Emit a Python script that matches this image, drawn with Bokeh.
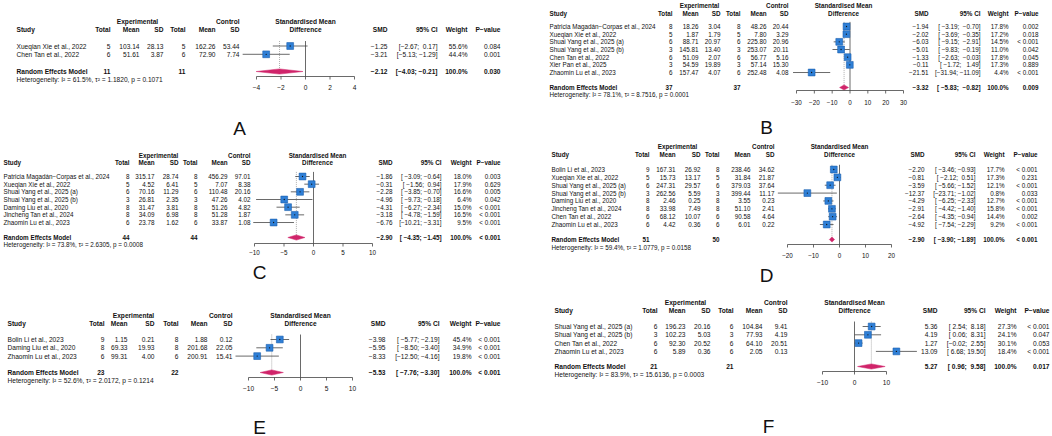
from bokeh.plotting import figure
from bokeh.models import Range1d, ColumnDataSource
from bokeh.embed import file_html
from bokeh.resources import INLINE
from bokeh.core.properties import value

# ---------------- DATA ----------------
# Panel A
study_A = ["Xueqian Xie et al., 2022", "Chen Tan et al., 2022"]
en_A = [5, 6]; em_A = [103.14, 51.61]; esd_A = [28.13, 3.87]
cn_A = [5, 6]; cm_A = [162.26, 72.90]; csd_A = [53.44, 7.74]
smd_A = [-1.25, -3.21]; lo_A = [-2.67, -5.13]; hi_A = [0.17, -1.29]
w_A = [55.6, 44.4]; p_A = ["0.084", "0.001"]
re_A = [-2.12, -4.03, -0.21]; rep_A = "0.030"; tot_A = [11, 11]
het_A = "Heterogeneity: I\u00b2 = 61.5%, \u03c4\u00b2 = 1.1820, p = 0.1071"
ticks_A = [-4, -2, 0, 2, 4]

# Panel B
study_B = ["Patricia Magad\u00e1n\u2212Corpas et al., 2024", "Xueqian Xie et al., 2022",
           "Shuai Yang et al., 2025 (a)", "Shuai Yang et al., 2025 (b)", "Chen Tan et al., 2022",
           "Xier Pan et al., 2025", "Zhaomin Lu et al., 2023"]
en_B = [8, 5, 6, 3, 6, 3, 6]; em_B = [18.26, 1.87, 88.71, 145.81, 51.09, 54.59, 157.47]
esd_B = [3.04, 1.79, 20.97, 13.40, 2.07, 19.89, 4.07]
cn_B = [8, 5, 6, 3, 6, 3, 6]; cm_B = [48.26, 7.80, 225.80, 253.07, 56.77, 57.14, 252.48]
csd_B = [20.44, 3.29, 20.96, 20.11, 5.16, 15.30, 4.08]
smd_B = [-1.94, -2.02, -6.03, -5.01, -1.33, -0.11, -21.51]
lo_B = [-3.19, -3.69, -9.15, -9.83, -2.63, -1.72, -31.94]
hi_B = [-0.70, -0.35, -2.91, -0.19, -0.03, 1.49, -11.09]
w_B = [17.8, 17.2, 14.5, 11.0, 17.8, 17.3, 4.4]
p_B = ["0.002", "0.018", "< 0.001", "0.042", "0.045", "0.889", "< 0.001"]
re_B = [-3.32, -5.83, -0.82]; rep_B = "0.009"; tot_B = [37, 37]
het_B = "Heterogeneity: I\u00b2 = 78.1%, \u03c4\u00b2 = 8.7516, p = 0.0001"
ticks_B = [-30, -20, -10, 0, 10, 20, 30]

# Panel C
study_C = ["Patricia Magad\u00e1n\u2212Corpas et al., 2024", "Xueqian Xie et al., 2022",
           "Shuai Yang et al., 2025 (a)", "Shuai Yang et al., 2025 (b)", "Daming Liu et al., 2020",
           "Jincheng Tan et al., 2024", "Zhaomin Lu et al., 2023"]
en_C = [8, 5, 6, 3, 8, 8, 6]; em_C = [315.17, 4.52, 70.16, 26.81, 31.47, 34.09, 23.78]
esd_C = [28.74, 6.41, 11.29, 2.35, 3.81, 6.98, 1.62]
cn_C = [8, 5, 6, 3, 8, 8, 6]; cm_C = [456.29, 7.07, 110.48, 47.26, 51.26, 51.28, 33.87]
csd_C = [97.01, 8.38, 20.16, 4.02, 4.82, 1.87, 1.08]
smd_C = [-1.86, -0.31, -2.28, -4.96, -4.31, -3.18, -6.76]
lo_C = [-3.09, -1.56, -3.85, -9.73, -6.27, -4.78, -10.21]
hi_C = [-0.64, 0.94, -0.70, -0.18, -2.34, -1.59, -3.31]
w_C = [18.0, 17.9, 16.6, 6.4, 15.0, 16.5, 9.5]
p_C = ["0.003", "0.629", "0.005", "0.042", "< 0.001", "< 0.001", "< 0.001"]
re_C = [-2.90, -4.35, -1.45]; rep_C = "< 0.001"; tot_C = [44, 44]
het_C = "Heterogeneity: I\u00b2 = 73.8%, \u03c4\u00b2 = 2.6305, p = 0.0008"
ticks_C = [-10, -5, 0, 5, 10]

# Panel D
study_D = ["Bolin Li et al., 2023", "Xueqian Xie et al., 2022", "Shuai Yang et al., 2025 (a)",
           "Shuai Yang et al., 2025 (b)", "Daming Liu et al., 2020", "Jincheng Tan et al., 2024",
           "Chen Tan et al., 2022", "Zhaomin Lu et al., 2023"]
en_D = [9, 5, 6, 3, 8, 8, 6, 6]; em_D = [167.31, 15.73, 247.31, 262.56, 2.46, 33.98, 68.12, 4.42]
esd_D = [26.92, 13.17, 29.57, 5.59, 0.25, 7.49, 10.07, 0.36]
cn_D = [8, 5, 6, 3, 8, 8, 6, 6]; cm_D = [238.46, 31.84, 379.03, 399.44, 3.55, 51.10, 90.58, 6.01]
csd_D = [34.62, 21.87, 37.64, 11.17, 0.23, 2.41, 4.64, 0.22]
smd_D = [-2.20, -0.81, -3.59, -12.37, -4.29, -2.91, -2.64, -4.92]
lo_D = [-3.46, -2.12, -5.66, -23.71, -6.25, -4.42, -4.35, -7.54]
hi_D = [-0.93, 0.51, -1.52, -1.02, -2.33, -1.40, -0.94, -2.29]
w_D = [17.7, 17.3, 12.1, 0.8, 12.7, 15.8, 14.4, 9.2]
p_D = ["< 0.001", "0.231", "< 0.001", "0.033", "< 0.001", "< 0.001", "0.002", "< 0.001"]
re_D = [-2.90, -3.90, -1.89]; rep_D = "< 0.001"; tot_D = [51, 50]
het_D = "Heterogeneity: I\u00b2 = 59.4%, \u03c4\u00b2 = 1.0779, p = 0.0158"
ticks_D = [-20, -10, 0, 10, 20]

# Panel E
study_E = ["Bolin Li et al., 2023", "Daming Liu et al., 2020", "Zhaomin Lu et al., 2023"]
en_E = [9, 8, 6]; em_E = [1.15, 69.33, 99.31]; esd_E = [0.21, 19.93, 4.00]
cn_E = [8, 8, 6]; cm_E = [1.88, 201.68, 200.91]; csd_E = [0.12, 22.05, 15.41]
smd_E = [-3.98, -5.95, -8.33]; lo_E = [-5.77, -8.50, -12.50]; hi_E = [-2.19, -3.40, -4.16]
w_E = [45.4, 34.9, 19.8]; p_E = ["< 0.001", "< 0.001", "< 0.001"]
re_E = [-5.53, -7.76, -3.30]; rep_E = "< 0.001"; tot_E = [23, 22]
het_E = "Heterogeneity: I\u00b2 = 52.6%, \u03c4\u00b2 = 2.0172, p = 0.1214"
ticks_E = [-10, -5, 0, 5, 10]

# Panel F
study_F = ["Shuai Yang et al., 2025 (a)", "Shuai Yang et al., 2025 (b)", "Chen Tan et al., 2022",
           "Zhaomin Lu et al., 2023"]
en_F = [6, 3, 6, 6]; em_F = [196.23, 102.23, 92.30, 5.89]; esd_F = [20.16, 5.03, 20.52, 0.36]
cn_F = [6, 3, 6, 6]; cm_F = [104.84, 77.93, 64.10, 2.05]; csd_F = [9.41, 4.19, 20.51, 0.13]
smd_F = [5.36, 4.19, 1.27, 13.09]; lo_F = [2.54, 0.06, -0.02, 6.68]; hi_F = [8.18, 8.31, 2.55, 19.50]
w_F = [27.3, 24.1, 30.1, 18.4]; p_F = ["< 0.001", "0.047", "0.053", "< 0.001"]
re_F = [5.27, 0.96, 9.58]; rep_F = "0.017"; tot_F = [21, 21]
het_F = "Heterogeneity: I\u00b2 = 83.9%, \u03c4\u00b2 = 15.6136, p = 0.0003"
ticks_F = [-10, 0, 10]

DATA = {
    "A": (study_A, en_A, em_A, esd_A, cn_A, cm_A, csd_A, smd_A, lo_A, hi_A, w_A, p_A, re_A, rep_A, tot_A, het_A, ticks_A),
    "B": (study_B, en_B, em_B, esd_B, cn_B, cm_B, csd_B, smd_B, lo_B, hi_B, w_B, p_B, re_B, rep_B, tot_B, het_B, ticks_B),
    "C": (study_C, en_C, em_C, esd_C, cn_C, cm_C, csd_C, smd_C, lo_C, hi_C, w_C, p_C, re_C, rep_C, tot_C, het_C, ticks_C),
    "D": (study_D, en_D, em_D, esd_D, cn_D, cm_D, csd_D, smd_D, lo_D, hi_D, w_D, p_D, re_D, rep_D, tot_D, het_D, ticks_D),
    "E": (study_E, en_E, em_E, esd_E, cn_E, cm_E, csd_E, smd_E, lo_E, hi_E, w_E, p_E, re_E, rep_E, tot_E, het_E, ticks_E),
    "F": (study_F, en_F, em_F, esd_F, cn_F, cm_F, csd_F, smd_F, lo_F, hi_F, w_F, p_F, re_F, rep_F, tot_F, het_F, ticks_F),
}

# ---------------- LAYOUT (screen pixel positions) ----------------
LAYOUT = {
    "A": dict(fs=6.6, sx=16, cols=[110, 139, 163, 185, 215, 239], expc=137, ctlr=239,
              lim=(-4, 4), px=(256, 354), ttl=305, rcols=[387, 437, 467, 500],
              yexp=21, ystudy=29, row1=45.5, h=8.3, yre=71, yhet=79, yax=76, ytl=87, lab=(239, 128)),
    "B": dict(fs=6.3, sx=549, cols=[672, 698, 720, 740, 766, 788], expc=699, ctlr=788,
              lim=(-30, 30), px=(796, 903), ttl=843, rcols=[928, 980, 1008, 1038],
              yexp=5, ystudy=13, row1=26, h=7.67, yre=87, yhet=94, yax=90, ytl=102, lab=(766, 127)),
    "C": dict(fs=6.3, sx=3, cols=[129, 154, 178, 197, 227, 250], expc=158, ctlr=250,
              lim=(-10, 10), px=(254, 372), ttl=317, rcols=[392, 441, 471, 500],
              yexp=155, ystudy=162, row1=176, h=7.67, yre=237, yhet=244, yax=243, ytl=252, lab=(259, 272)),
    "D": dict(fs=6.3, sx=551, cols=[649, 675, 700, 719, 750, 774], expc=677, ctlr=774,
              lim=(-20, 20), px=(787, 891), ttl=839, rcols=[924, 975, 1004, 1037],
              yexp=146, ystudy=154, row1=169, h=7.86, yre=239, yhet=247, yax=244, ytl=255, lab=(766, 275)),
    "E": dict(fs=6.6, sx=7, cols=[104, 127, 154, 178, 207, 232], expc=133, ctlr=232,
              lim=(-10, 10), px=(248, 352), ttl=300, rcols=[385, 439, 471, 500],
              yexp=315, ystudy=323, row1=339, h=8.3, yre=372, yhet=380, yax=377, ytl=388, lab=(259, 427)),
    "F": dict(fs=6.6, sx=554, cols=[657, 685, 710, 733, 762, 787], expc=685, ctlr=787,
              lim=(-10, 10), px=(822, 886), ttl=854, rcols=[937, 985, 1016, 1049],
              yexp=302, ystudy=310, row1=326, h=8.3, yre=366, yhet=374, yax=371, ytl=382, lab=(768, 426)),
}

FONT = "Liberation Sans"
SQ_FILL = "#2f7fd6"
SQ_LINE = "#1b5fae"
DIA = "#d0246a"
INK = "#111111"
GREY = "#444444"

W, H = 1052, 436
p = figure(width=W, height=H, x_range=Range1d(0, W), y_range=Range1d(H, 0),
           output_backend="svg", toolbar_location=None, x_axis_location=None,
           y_axis_location=None, min_border=0)
p.grid.visible = False
p.outline_line_color = None
p.background_fill_color = "white"


def M(s):
    return s.replace("-", "\u2212")


def f2(v):
    return M(f"{v:.2f}")


def txt(target, xs, ys, texts, fs, align="left", bold=False, color=INK):
    src = ColumnDataSource(dict(x=list(xs), y=list(ys), t=list(texts)))
    target.text(x="x", y="y", text="t", source=src, text_font=value(FONT),
                text_font_size=value(f"{fs}px"), text_align=align, text_baseline="middle",
                text_font_style="bold" if bold else "normal", text_color=color)


def ci_strings(lo, hi):
    ls = [f"{v:.2f}" for v in lo]
    hs = [f"{v:.2f}" for v in hi]
    wl = max(len(s) for s in ls)
    wh = max(len(s) for s in hs)
    out = []
    for a, b in zip(ls, hs):
        s = "[" + a.rjust(wl) + "; " + b.rjust(wh) + "]"
        out.append(M(s).replace(" ", "\u00a0"))
    return out


for key in "ABCDEF":
    (study, en, em, esd, cn, cm, csd, smd, lo, hi, w, pv, re, rep, tot, het, ticks) = DATA[key]
    L = LAYOUT[key]
    fs = L["fs"]
    n = len(study)
    ys = [L["row1"] + i * L["h"] for i in range(n)]
    yre = L["yre"]

    # headers
    txt(p, [L["expc"]], [L["yexp"]], ["Experimental"], fs, "center", True)
    txt(p, [L["ctlr"]], [L["yexp"]], ["Control"], fs, "right", True)
    txt(p, [L["sx"]], [L["ystudy"]], ["Study"], fs, "left", True)
    txt(p, L["cols"], [L["ystudy"]] * 6, ["Total", "Mean", "SD", "Total", "Mean", "SD"], fs, "right", True)
    txt(p, [L["ttl"], L["ttl"]], [L["yexp"], L["ystudy"]], ["Standardised Mean", "Difference"], fs, "center", True)
    txt(p, L["rcols"], [L["ystudy"]] * 4, ["SMD", "95% CI", "Weight", "P\u2212value"], fs, "right", True)

    # study rows
    txt(p, [L["sx"]] * n, ys, study, fs, "left")
    colvals = [[str(v) for v in en], [f2(v) for v in em], [f2(v) for v in esd],
               [str(v) for v in cn], [f2(v) for v in cm], [f2(v) for v in csd]]
    for cx, vals in zip(L["cols"], colvals):
        txt(p, [cx] * n, ys, vals, fs, "right")
    cis = ci_strings(lo + [re[1]], hi + [re[2]])
    rvals = [[f2(v) for v in smd], cis[:n], [f"{v:.1f}%" for v in w], pv]
    for cx, vals in zip(L["rcols"], rvals):
        txt(p, [cx] * n, ys, vals, fs, "right")

    # random effects row
    txt(p, [L["sx"]], [yre], ["Random Effects Model"], fs, "left", True)
    txt(p, [L["cols"][0], L["cols"][3]], [yre, yre], [str(tot[0]), str(tot[1])], fs, "right", True)
    txt(p, L["rcols"], [yre] * 4, [f2(re[0]), cis[n], "100.0%", rep], fs, "right", True)
    txt(p, [L["sx"]], [L["yhet"]], [het], fs, "left")

    # forest plot through a sub-coordinate system (SMD units -> pixel span)
    sub = p.subplot(x_source=Range1d(*L["lim"]), y_source=p.y_range,
                    x_target=Range1d(*L["px"]), y_target=p.y_range)
    top = ys[0] - 0.6 * L["h"]
    yax = L["yax"]
    sub.segment(x0=[0], y0=[top], x1=[0], y1=[yax], line_color=GREY, line_width=0.8)
    sub.segment(x0=[re[0]], y0=[top], x1=[re[0]], y1=[yre], line_color="#9a9a9a",
                line_width=0.8, line_dash="1 1")
    sub.segment(x0=lo, y0=ys, x1=hi, y1=ys, line_color=GREY, line_width=0.8)
    sub.scatter(x=smd, y=ys, marker="square", size=6.8, fill_color=SQ_FILL,
                line_color=SQ_LINE, line_width=0.6)
    sub.scatter(x=smd, y=ys, marker="circle", size=1.3, fill_color=INK, line_color=None)
    d = 2.6
    sub.patch(x=[re[1], re[0], re[2], re[0]], y=[yre, yre - d, yre, yre + d],
              fill_color=DIA, line_color=DIA, line_width=0.5)
    # axis
    k = len(ticks)
    sub.segment(x0=[ticks[0]], y0=[yax], x1=[ticks[-1]], y1=[yax], line_color=GREY, line_width=0.8)
    sub.segment(x0=ticks, y0=[yax] * k, x1=ticks, y1=[yax + 3] * k, line_color=GREY, line_width=0.8)
    txt(sub, ticks, [L["ytl"]] * k, [M(str(t)) for t in ticks], fs, "center")

    # panel letter
    txt(p, [L["lab"][0]], [L["lab"][1]], [key], 19, "center")

open("out.html", "w").write(file_html(p, INLINE))
